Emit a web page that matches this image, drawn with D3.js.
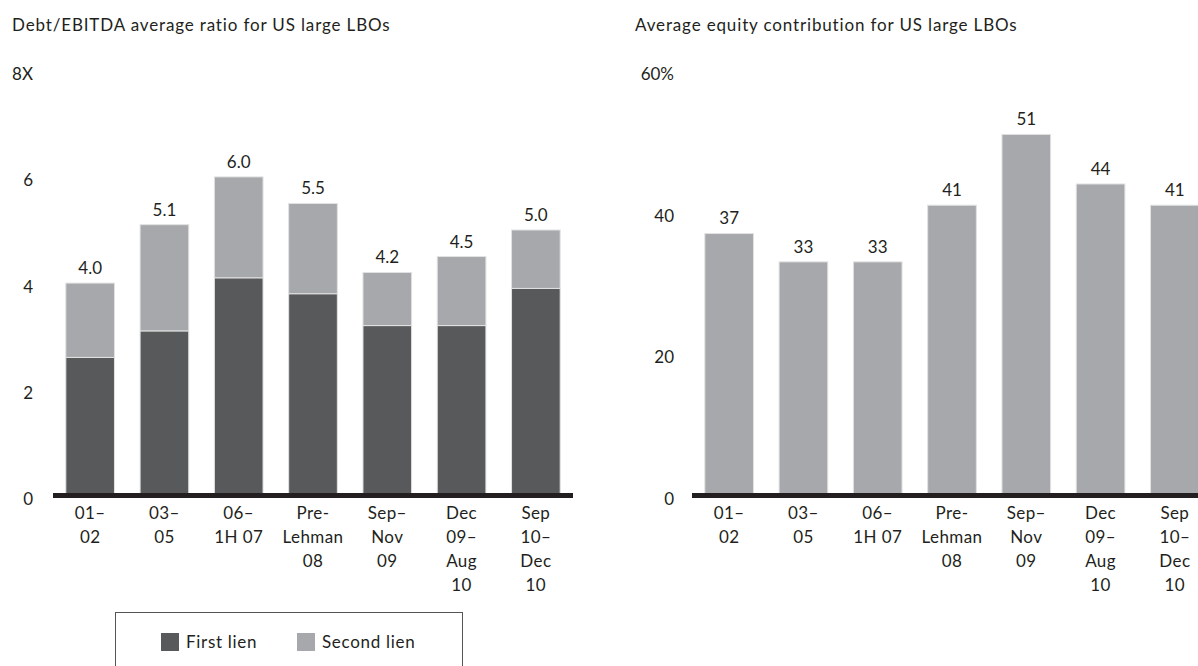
<!DOCTYPE html>
<html>
<head>
<meta charset="utf-8">
<script src="https://cdn.jsdelivr.net/npm/d3@7"></script>
<style>
  html, body { margin: 0; padding: 0; background: #fff; }
  svg { display: block; }
  text { font-family: "Lato", "Noto Sans", sans-serif; fill: #231f20; }
</style>
</head>
<body>
<svg id="chart" width="1198" height="666"></svg>
<script>
// ---- Data ----
const categories = ["01–\n02", "03–\n05", "06–\n1H 07", "Pre-\nLehman\n08", "Sep–\nNov\n09", "Dec\n09–\nAug\n10", "Sep\n10–\nDec\n10"];
const seriesNames = ["First lien", "Second lien"];
const firstLien = [2.6, 3.1, 4.1, 3.8, 3.2, 3.2, 3.9];
const secondLien = [1.4, 2.0, 1.9, 1.7, 1.0, 1.3, 1.1];
const equityContribution = [37, 33, 33, 41, 51, 44, 41];
const debtTicks = [0, 2, 4, 6, 8];
const equityTicks = [0, 20, 40, 60];
const leftTitle = "Debt/EBITDA average ratio for US large LBOs";
const rightTitle = "Average equity contribution for US large LBOs";

// ---- Styles ----
const FS = 17;
const colFirst = "#58595b";
const colSecond = "#a7a8ab";
const ink = "#231f20";

const svg = d3.select("#chart");

function drawPanel(opts) {
  const g = svg.append("g");
  const x = d3.scaleBand().domain(categories).range(opts.xRange)
    .paddingInner(0.345).paddingOuter(0.1725);
  const y = d3.scaleLinear().domain(opts.yDomain).range([495.5, 70.7]);

  // title
  g.append("text").attr("x", opts.titleX).attr("y", 25).attr("dy", "0.35em")
    .style("font-size", FS + "px").style("letter-spacing", "0.85px").text(opts.title);

  // y axis labels
  const ya = g.append("g").attr("transform", `translate(${opts.axisX},0)`)
    .call(d3.axisLeft(y).tickValues(opts.ticks).tickSize(0).tickPadding(0).tickFormat(opts.fmt));
  ya.select(".domain").remove();
  ya.selectAll("text").style("font-size", FS + "px").style("font-family", null)
    .attr("fill", ink).attr("transform", "translate(0,3.5)");

  opts.drawBars(g, x, y);

  // baseline
  g.append("line").attr("x1", opts.xRange[0]).attr("x2", opts.xRange[1])
    .attr("y1", y(0)).attr("y2", y(0)).attr("stroke", ink).attr("stroke-width", 5);

  // x labels
  const xl = g.append("g").selectAll("text").data(categories).join("text")
    .attr("text-anchor", "middle").style("font-size", FS + "px").style("letter-spacing", "0.4px")
    .attr("x", d => x(d) + x.bandwidth() / 2).attr("y", 513);
  xl.each(function(d) {
    const lines = d.split("\n");
    d3.select(this).selectAll("tspan").data(lines).join("tspan")
      .attr("x", x(d) + x.bandwidth() / 2)
      .attr("dy", (l, i) => i === 0 ? "0.35em" : "24px")
      .text(l => l);
  });
}

// ---- Left panel: stacked debt/EBITDA ----
const rows = categories.map((c, i) => ({ cat: c, "First lien": firstLien[i], "Second lien": secondLien[i] }));
const stack = d3.stack().keys(seriesNames)(rows);
const color = d3.scaleOrdinal().domain(seriesNames).range([colFirst, colSecond]);

drawPanel({
  xRange: [53, 573], yDomain: [0, 8], ticks: debtTicks, axisX: 33, titleX: 12,
  title: leftTitle,
  fmt: d => d === 8 ? "8X" : d,
  drawBars: (g, x, y) => {
    g.append("g").selectAll("g").data(stack).join("g").attr("fill", s => color(s.key))
      .selectAll("rect").data(s => s).join("rect")
      .attr("x", d => x(d.data.cat)).attr("width", x.bandwidth())
      .attr("y", d => y(d[1])).attr("height", d => y(d[0]) - y(d[1]))
      .attr("stroke", "#e2e2e2").attr("stroke-width", 1);
    g.append("g").selectAll("text").data(rows).join("text")
      .attr("text-anchor", "middle").style("font-size", FS + "px")
      .attr("x", d => x(d.cat) + x.bandwidth() / 2)
      .attr("y", d => y(d["First lien"] + d["Second lien"]) - 15).attr("dy", "0.35em")
      .text(d => d3.format(".1f")(d["First lien"] + d["Second lien"]));
  }
});

// ---- Right panel: equity contribution ----
drawPanel({
  xRange: [692, 1212], yDomain: [0, 60], ticks: equityTicks, axisX: 674, titleX: 635,
  title: rightTitle,
  fmt: d => d === 60 ? "60%" : d,
  drawBars: (g, x, y) => {
    g.append("g").selectAll("rect").data(categories).join("rect")
      .attr("fill", colSecond).attr("stroke", "#e2e2e2").attr("stroke-width", 1)
      .attr("x", d => x(d)).attr("width", x.bandwidth())
      .attr("y", (d, i) => y(equityContribution[i]))
      .attr("height", (d, i) => y(0) - y(equityContribution[i]));
    g.append("g").selectAll("text").data(categories).join("text")
      .attr("text-anchor", "middle").style("font-size", FS + "px")
      .attr("x", d => x(d) + x.bandwidth() / 2)
      .attr("y", (d, i) => y(equityContribution[i]) - 15).attr("dy", "0.35em")
      .text((d, i) => equityContribution[i]);
  }
});

// ---- Legend ----
const lg = svg.append("g");
lg.append("rect").attr("x", 115.5).attr("y", 612.5).attr("width", 347).attr("height", 90)
  .attr("fill", "none").attr("stroke", "#555").attr("stroke-width", 1);
const legendX = [161, 297];
seriesNames.forEach((name, i) => {
  lg.append("rect").attr("x", legendX[i]).attr("y", 633).attr("width", 18).attr("height", 18)
    .attr("fill", color(name));
  lg.append("text").attr("x", legendX[i] + 25).attr("y", 642).attr("dy", "0.35em")
    .style("font-size", FS + "px").style("letter-spacing", "0.7px").text(name);
});
</script>
</body>
</html>
